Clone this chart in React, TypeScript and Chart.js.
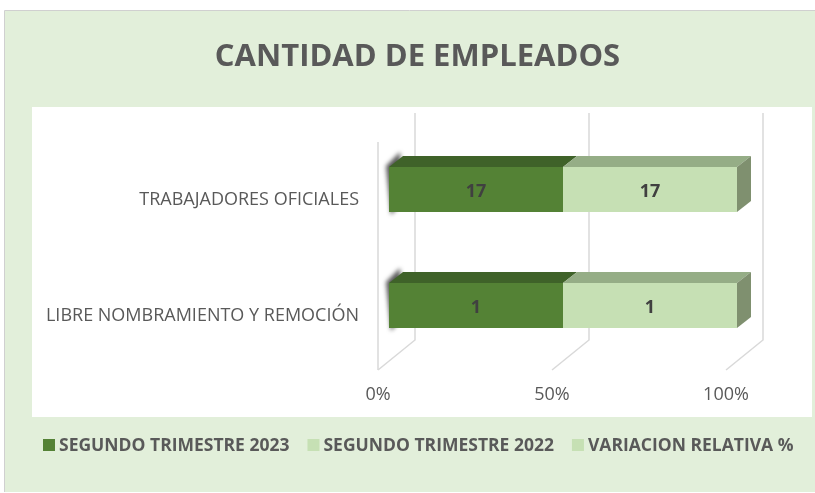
import React, { useEffect, useRef } from "react";
import { Chart, registerables } from "chart.js";

Chart.register(...registerables);

const chartTitle = "CANTIDAD DE EMPLEADOS";
const categories = ["TRABAJADORES OFICIALES", "LIBRE NOMBRAMIENTO Y REMOCIÓN"];
const seriesNames = ["SEGUNDO TRIMESTRE 2023", "SEGUNDO TRIMESTRE 2022", "VARIACION RELATIVA %"];
const trimestre2023 = [17, 1];
const trimestre2022 = [17, 1];
const variacionRelativa = [0, 0];
const tickValues = [0, 50, 100];
const tickLabels = ["0%", "50%", "100%"];

const frontColors = ["#548235", "#c6e0b4", "#c6e0b4"];
const topColors = ["#3f6229", "#95ad86", "#95ad86"];
const sideColors = ["#3b5a27", "#7f906f", "#7f906f"];

const FONT = "'Open Sans', sans-serif";
const TEXT = "#595959";
const DX = 14;
const DY = 11;

const rawSeries = [trimestre2023, trimestre2022, variacionRelativa];
const totals = categories.map((_, j) => rawSeries.reduce((s, arr) => s + arr[j], 0));
const pctSeries = rawSeries.map((arr) => arr.map((v, j) => (totals[j] ? (v / totals[j]) * 100 : 0)));

function poly(ctx: CanvasRenderingContext2D, pts: number[][], fill: string) {
  ctx.beginPath();
  ctx.moveTo(pts[0][0], pts[0][1]);
  for (let i = 1; i < pts.length; i++) ctx.lineTo(pts[i][0], pts[i][1]);
  ctx.closePath();
  ctx.fillStyle = fill;
  ctx.fill();
}

const decor = {
  id: "decor",
  beforeDraw(chart: any) {
    const ctx: CanvasRenderingContext2D = chart.ctx;
    const W = chart.width;
    const H = chart.height;
    ctx.save();
    ctx.fillStyle = "#ffffff";
    ctx.fillRect(0, 0, W, H);
    ctx.fillStyle = "#e2efda";
    ctx.fillRect(5, 11, W - 5, H - 12);
    ctx.strokeStyle = "#d0d0d0";
    ctx.lineWidth = 1;
    ctx.beginPath();
    ctx.moveTo(4.5, H - 1);
    ctx.lineTo(4.5, 10.5);
    ctx.lineTo(W, 10.5);
    ctx.stroke();
    ctx.fillStyle = "#ffffff";
    ctx.fillRect(32, 107, W - 32 - 3, 310);
    ctx.restore();
  },
  beforeDatasetsDraw(chart: any) {
    const ctx: CanvasRenderingContext2D = chart.ctx;
    const xs = chart.scales.x;
    const area = chart.chartArea;
    const backTop = area.top - 18.5;
    const backBottom = area.bottom - 23.5;
    const frontBottom = area.bottom + 6.5;
    const leftTop = area.top + 10.5;
    ctx.save();
    ctx.strokeStyle = "#d9d9d9";
    ctx.lineWidth = 1.5;
    tickValues.forEach((v) => {
      const px = xs.getPixelForValue(v);
      ctx.beginPath();
      ctx.moveTo(px + 26, backTop);
      ctx.lineTo(px + 26, backBottom);
      ctx.lineTo(px - 11, frontBottom);
      ctx.stroke();
    });
    const p0 = xs.getPixelForValue(0) - 11;
    ctx.beginPath();
    ctx.moveTo(p0, leftTop);
    ctx.lineTo(p0, frontBottom);
    ctx.stroke();

    const meta0 = chart.getDatasetMeta(0);
    meta0.data.forEach((bar: any) => {
      const p = bar.getProps(["x", "y", "base", "height"], true);
      const left = Math.min(p.base, p.x);
      const top = p.y - p.height / 2;
      const bottom = p.y + p.height / 2;
      ctx.save();
      ctx.filter = "blur(2px)";
      poly(ctx, [[left - 3, top - 1], [left + DX - 3, top - DY - 4], [left + DX, bottom - DY], [left + 2, bottom + 3]], "rgba(60,60,60,0.85)");
      ctx.restore();
    });
    ctx.restore();
  },
  afterDatasetsDraw(chart: any) {
    const ctx: CanvasRenderingContext2D = chart.ctx;
    ctx.save();
    const n = categories.length;
    for (let j = 0; j < n; j++) {
      let lastIdx = -1;
      chart.data.datasets.forEach((ds: any, i: number) => {
        if (pctSeries[i][j] <= 0) return;
        const bar = chart.getDatasetMeta(i).data[j];
        const p = bar.getProps(["x", "y", "base", "height"], true);
        const left = Math.min(p.base, p.x);
        const right = Math.max(p.base, p.x);
        const top = p.y - p.height / 2;
        poly(ctx, [[left, top], [left + DX, top - DY], [right + DX, top - DY], [right, top]], topColors[i]);
        lastIdx = i;
      });
      if (lastIdx >= 0) {
        const bar = chart.getDatasetMeta(lastIdx).data[j];
        const p = bar.getProps(["x", "y", "base", "height"], true);
        const right = Math.max(p.base, p.x);
        const top = p.y - p.height / 2;
        const bottom = p.y + p.height / 2;
        poly(ctx, [[right, top], [right + DX, top - DY], [right + DX, bottom - DY], [right, bottom]], sideColors[lastIdx]);
      }
    }
    ctx.font = `bold 18px ${FONT}`;
    ctx.fillStyle = "#404040";
    ctx.textAlign = "center";
    ctx.textBaseline = "middle";
    chart.data.datasets.forEach((ds: any, i: number) => {
      chart.getDatasetMeta(i).data.forEach((bar: any, j: number) => {
        const v = rawSeries[i][j];
        if (!v) return;
        const p = bar.getProps(["x", "y", "base"], true);
        ctx.fillText(String(v), (p.base + p.x) / 2, p.y + 2);
      });
    });
    ctx.restore();
  },
  afterDraw(chart: any) {
    const ctx: CanvasRenderingContext2D = chart.ctx;
    ctx.save();
    ctx.fillStyle = TEXT;
    ctx.font = `bold 31px ${FONT}`;
    ctx.textAlign = "center";
    ctx.textBaseline = "alphabetic";
    ctx.fillText(chartTitle, 417.5, 66);

    ctx.font = `bold 17.5px ${FONT}`;
    ctx.textAlign = "left";
    ctx.textBaseline = "middle";
    let x = 43;
    const y = 445;
    seriesNames.forEach((name, i) => {
      ctx.fillStyle = frontColors[i];
      ctx.fillRect(x, y - 6, 12, 12);
      ctx.fillStyle = TEXT;
      ctx.fillText(name, x + 16, y + 1);
      x += 16 + ctx.measureText(name).width + 18;
    });
    ctx.restore();
  },
};

export default function App() {
  const ref = useRef<HTMLCanvasElement | null>(null);
  useEffect(() => {
    document.body.style.margin = "0";
    const canvas = ref.current!;
    const chart = new Chart(canvas, {
      type: "bar",
      data: {
        labels: categories,
        datasets: seriesNames.map((name, i) => ({
          label: name,
          data: pctSeries[i],
          backgroundColor: frontColors[i],
          borderWidth: 0,
          categoryPercentage: 1,
          barPercentage: 45 / 116,
        })),
      },
      options: {
        indexAxis: "y",
        responsive: false,
        maintainAspectRatio: false,
        animation: false,
        layout: { padding: { left: 0, right: 78, top: 131.5, bottom: 493 - 363.5 - 50 } },
        plugins: {
          legend: { display: false },
          title: { display: false },
          tooltip: { enabled: false },
        },
        scales: {
          x: {
            stacked: true,
            min: 0,
            max: 100,
            grid: { display: false, drawTicks: false },
            border: { display: false },
            afterBuildTicks: (s: any) => {
              s.ticks = tickValues.map((v) => ({ value: v }));
            },
            afterFit: (s: any) => {
              s.height = 50;
            },
            ticks: {
              autoSkip: false,
              maxRotation: 0,
              padding: 21,
              labelOffset: -11,
              color: TEXT,
              font: { family: FONT, size: 18 },
              callback: (_v: any, idx: number) => tickLabels[idx],
            },
          },
          y: {
            stacked: true,
            grid: { display: false, drawTicks: false },
            border: { display: false },
            afterFit: (s: any) => {
              s.width = 389;
            },
            ticks: {
              padding: 30,
              labelOffset: 10,
              color: TEXT,
              font: { family: FONT, size: 18 },
            },
          },
        },
      } as any,
      plugins: [decor],
    });
    return () => chart.destroy();
  }, []);
  return <canvas ref={ref} width={815} height={493} style={{ display: "block" }} />;
}
